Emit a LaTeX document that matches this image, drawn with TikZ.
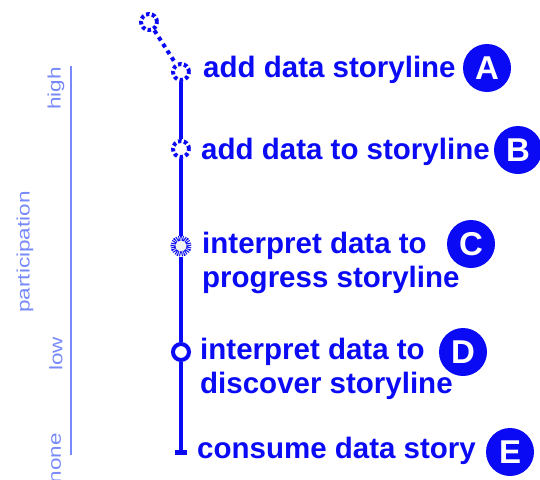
\documentclass[tikz,border=0pt]{standalone}
\usepackage{fontspec}
\setmainfont{Liberation Sans}
\newfontfamily\axisfont[FakeStretch=1.25]{Liberation Sans}
\usepackage{tikz}
\usetikzlibrary{arrows.meta}
\usepackage{xcolor}
\definecolor{storyblue}{RGB}{10,10,245}
\definecolor{softblue}{RGB}{120,138,250}

\begin{document}
\begin{tikzpicture}[x=1pt, y=-1pt,
  stepmark/.style={circle, draw=storyblue, fill=white, line width=4pt, minimum size=16pt, inner sep=0pt},
  steptext/.style={anchor=base west, inner sep=0pt, text=storyblue, align=left, font=\bfseries\fontsize{29.5}{34}\selectfont},
  badge/.style={circle, fill=storyblue, text=white, minimum size=48pt, inner sep=0pt, font=\bfseries\fontsize{33}{33}\selectfont},
  axislabel/.style={rotate=90, inner sep=0pt, text=softblue, font=\axisfont\fontsize{18}{18}\selectfont}]
  \useasboundingbox (0,0) rectangle (540,479);
  % participation scale
  \coordinate (axTop) at (71,66);
  \coordinate (axBot) at (71,455);
  \draw[softblue, line width=1.4pt] (axTop) -- (axBot);
  \node[axislabel, anchor=east] (high) at (56,67) {high};
  \node[axislabel] (participation) at (25,252) {participation};
  \node[axislabel, anchor=east] (low) at (56,337) {low};
  \node[axislabel, anchor=east] (none) at (56,433) {none};
  % storyline marks
  \node[stepmark, dash pattern=on 3.5pt off 2.5pt] (mTop) at (149,22) {};
  \node[stepmark, dash pattern=on 3.5pt off 2.5pt] (mA) at (181,72) {};
  \node[stepmark, dash pattern=on 3.5pt off 2.5pt] (mB) at (181,149) {};
  \node[stepmark, dash pattern=on 1pt off 1pt, line width=5pt, fill=gray!10] (mC) at (181,246) {};
  \node[stepmark] (mD) at (181,352) {};
  \coordinate (mE) at (181,455);
  \draw[storyblue, line width=4pt, dash pattern=on 4pt off 4pt] (mTop) -- (mA);
  \draw[storyblue, line width=4.5pt, -{Bar[width=12pt, line width=5pt]}] (mA) -- (mB) -- (mC) -- (mD) -- (mE);
  % steps
  \node[steptext] (tA) at (203,77) {add data storyline};
  \node[steptext] (tB) at (201,159) {add data to storyline};
  \node[steptext] (tC) at (202,287) {interpret data to\\progress storyline};
  \node[steptext] (tD) at (200,393) {interpret data to\\discover storyline};
  \node[steptext] (tE) at (197,458) {consume data story};
  \node[badge] (bA) at (487,68) {A};
  \node[badge] (bB) at (518,150) {B};
  \node[badge] (bC) at (471,244) {C};
  \node[badge] (bD) at (463,352) {D};
  \node[badge] (bE) at (510,452) {E};
\end{tikzpicture}
\end{document}
